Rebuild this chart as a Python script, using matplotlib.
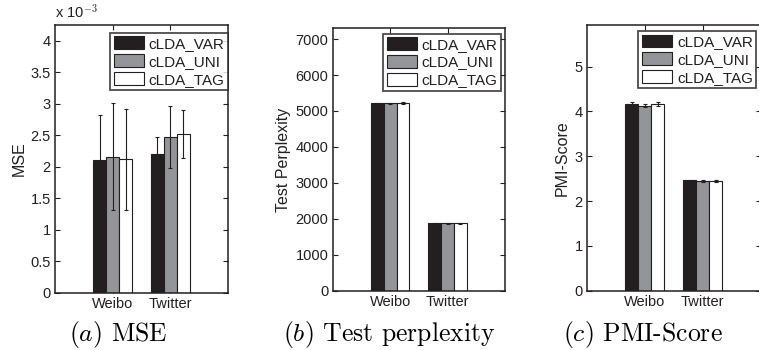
import matplotlib
matplotlib.use("Agg")
import numpy as np
import matplotlib.pyplot as plt

# data
datasets = ["Weibo", "Twitter"]
methods = ["cLDA_VAR", "cLDA_UNI", "cLDA_TAG"]

# MSE, in units of 1e-3
mse = [[2.10, 2.16, 2.12],
       [2.21, 2.47, 2.52]]
mse_err = [[0.72, 0.85, 0.80],
           [0.26, 0.49, 0.38]]

perplexity = [[5210, 5210, 5215],
              [1880, 1880, 1880]]
perplexity_err = [[25, 25, 30],
                  [15, 15, 15]]

pmi = [[4.16, 4.13, 4.16],
       [2.46, 2.45, 2.45]]
pmi_err = [[0.04, 0.04, 0.05],
           [0.02, 0.02, 0.02]]

bar_colors = ["#231f20", "#939598", "#ffffff"]
text_color = "#231f20"

plt.rcParams["font.family"] = ["Liberation Sans", "DejaVu Sans"]
plt.rcParams["mathtext.fontset"] = "cm"

fig = plt.figure(figsize=(7.59, 3.5), dpi=100)


def draw_panel(rect, values, errors, ylim, yticks, ylabel, legend_anchor, ticklabels=None):
    ax = fig.add_axes(rect)
    values = np.array(values)
    errors = np.array(errors)
    x = np.arange(1, len(datasets) + 1)
    width = 0.225
    for i, name in enumerate(methods):
        pos = x + (i - 1) * width
        ax.bar(pos, values[:, i], width, color=bar_colors[i], edgecolor="#231f20",
               linewidth=0.8, label=name, zorder=2)
        ax.errorbar(pos, values[:, i], yerr=errors[:, i], fmt="none", ecolor="#231f20",
                    elinewidth=0.8, capsize=1.2, capthick=0.8, zorder=3)
    ax.set_xlim(0, 3)
    ax.set_ylim(*ylim)
    ax.set_xticks(x)
    ax.set_xticklabels(datasets)
    ax.set_yticks(yticks)
    if ticklabels is not None:
        ax.set_yticklabels(ticklabels)
    ax.set_ylabel(ylabel, fontsize=11.5, color=text_color, labelpad=3)
    ax.tick_params(direction="in", length=3.5, width=0.8, top=True, right=True,
                   labelsize=10.5, colors=text_color, pad=3)
    for sp in ax.spines.values():
        sp.set_linewidth(1.1)
        sp.set_color(text_color)
    leg = ax.legend(loc="upper right", bbox_to_anchor=legend_anchor, fontsize=11,
                    frameon=True, fancybox=False, edgecolor="#231f20",
                    handlelength=2.0, handleheight=0.9, handletextpad=0.3,
                    labelspacing=0.22, borderpad=0.22, borderaxespad=0)
    leg.get_frame().set_linewidth(1.3)
    for t in leg.get_texts():
        t.set_color(text_color)
    return ax


ax1 = draw_panel([0.0725, 0.163, 0.228, 0.766], mse, mse_err, (0, 4.25),
                 np.arange(0, 4.01, 0.5), "MSE", (1.0, 0.97),
                 ["0", "0.5", "1", "1.5", "2", "2.5", "3", "3.5", "4"])
ax1.text(0.0, 1.015, r"x 10$^{-3}$", transform=ax1.transAxes, fontsize=10.5,
         color=text_color, ha="left", va="bottom")

ax2 = draw_panel([0.4383, 0.1694, 0.2270, 0.7497], perplexity, perplexity_err, (0, 7300),
                 np.arange(0, 7001, 1000), "Test Perplexity", (0.977, 0.98))

ax3 = draw_panel([0.773, 0.1694, 0.229, 0.7583], pmi, pmi_err, (0, 5.92),
                 np.arange(0, 6), "PMI-Score", (0.975, 0.978))

captions = [(118, r"$(a)$ MSE"), (389, r"$(b)$ Test perplexity"), (643, r"$(c)$ PMI-Score")]
for xc, cap in captions:
    fig.text(xc / 759, 0.043, cap, fontsize=18.5, family="cmr10", ha="center", va="center",
             color="black")

fig.savefig("out.png", dpi=100)
